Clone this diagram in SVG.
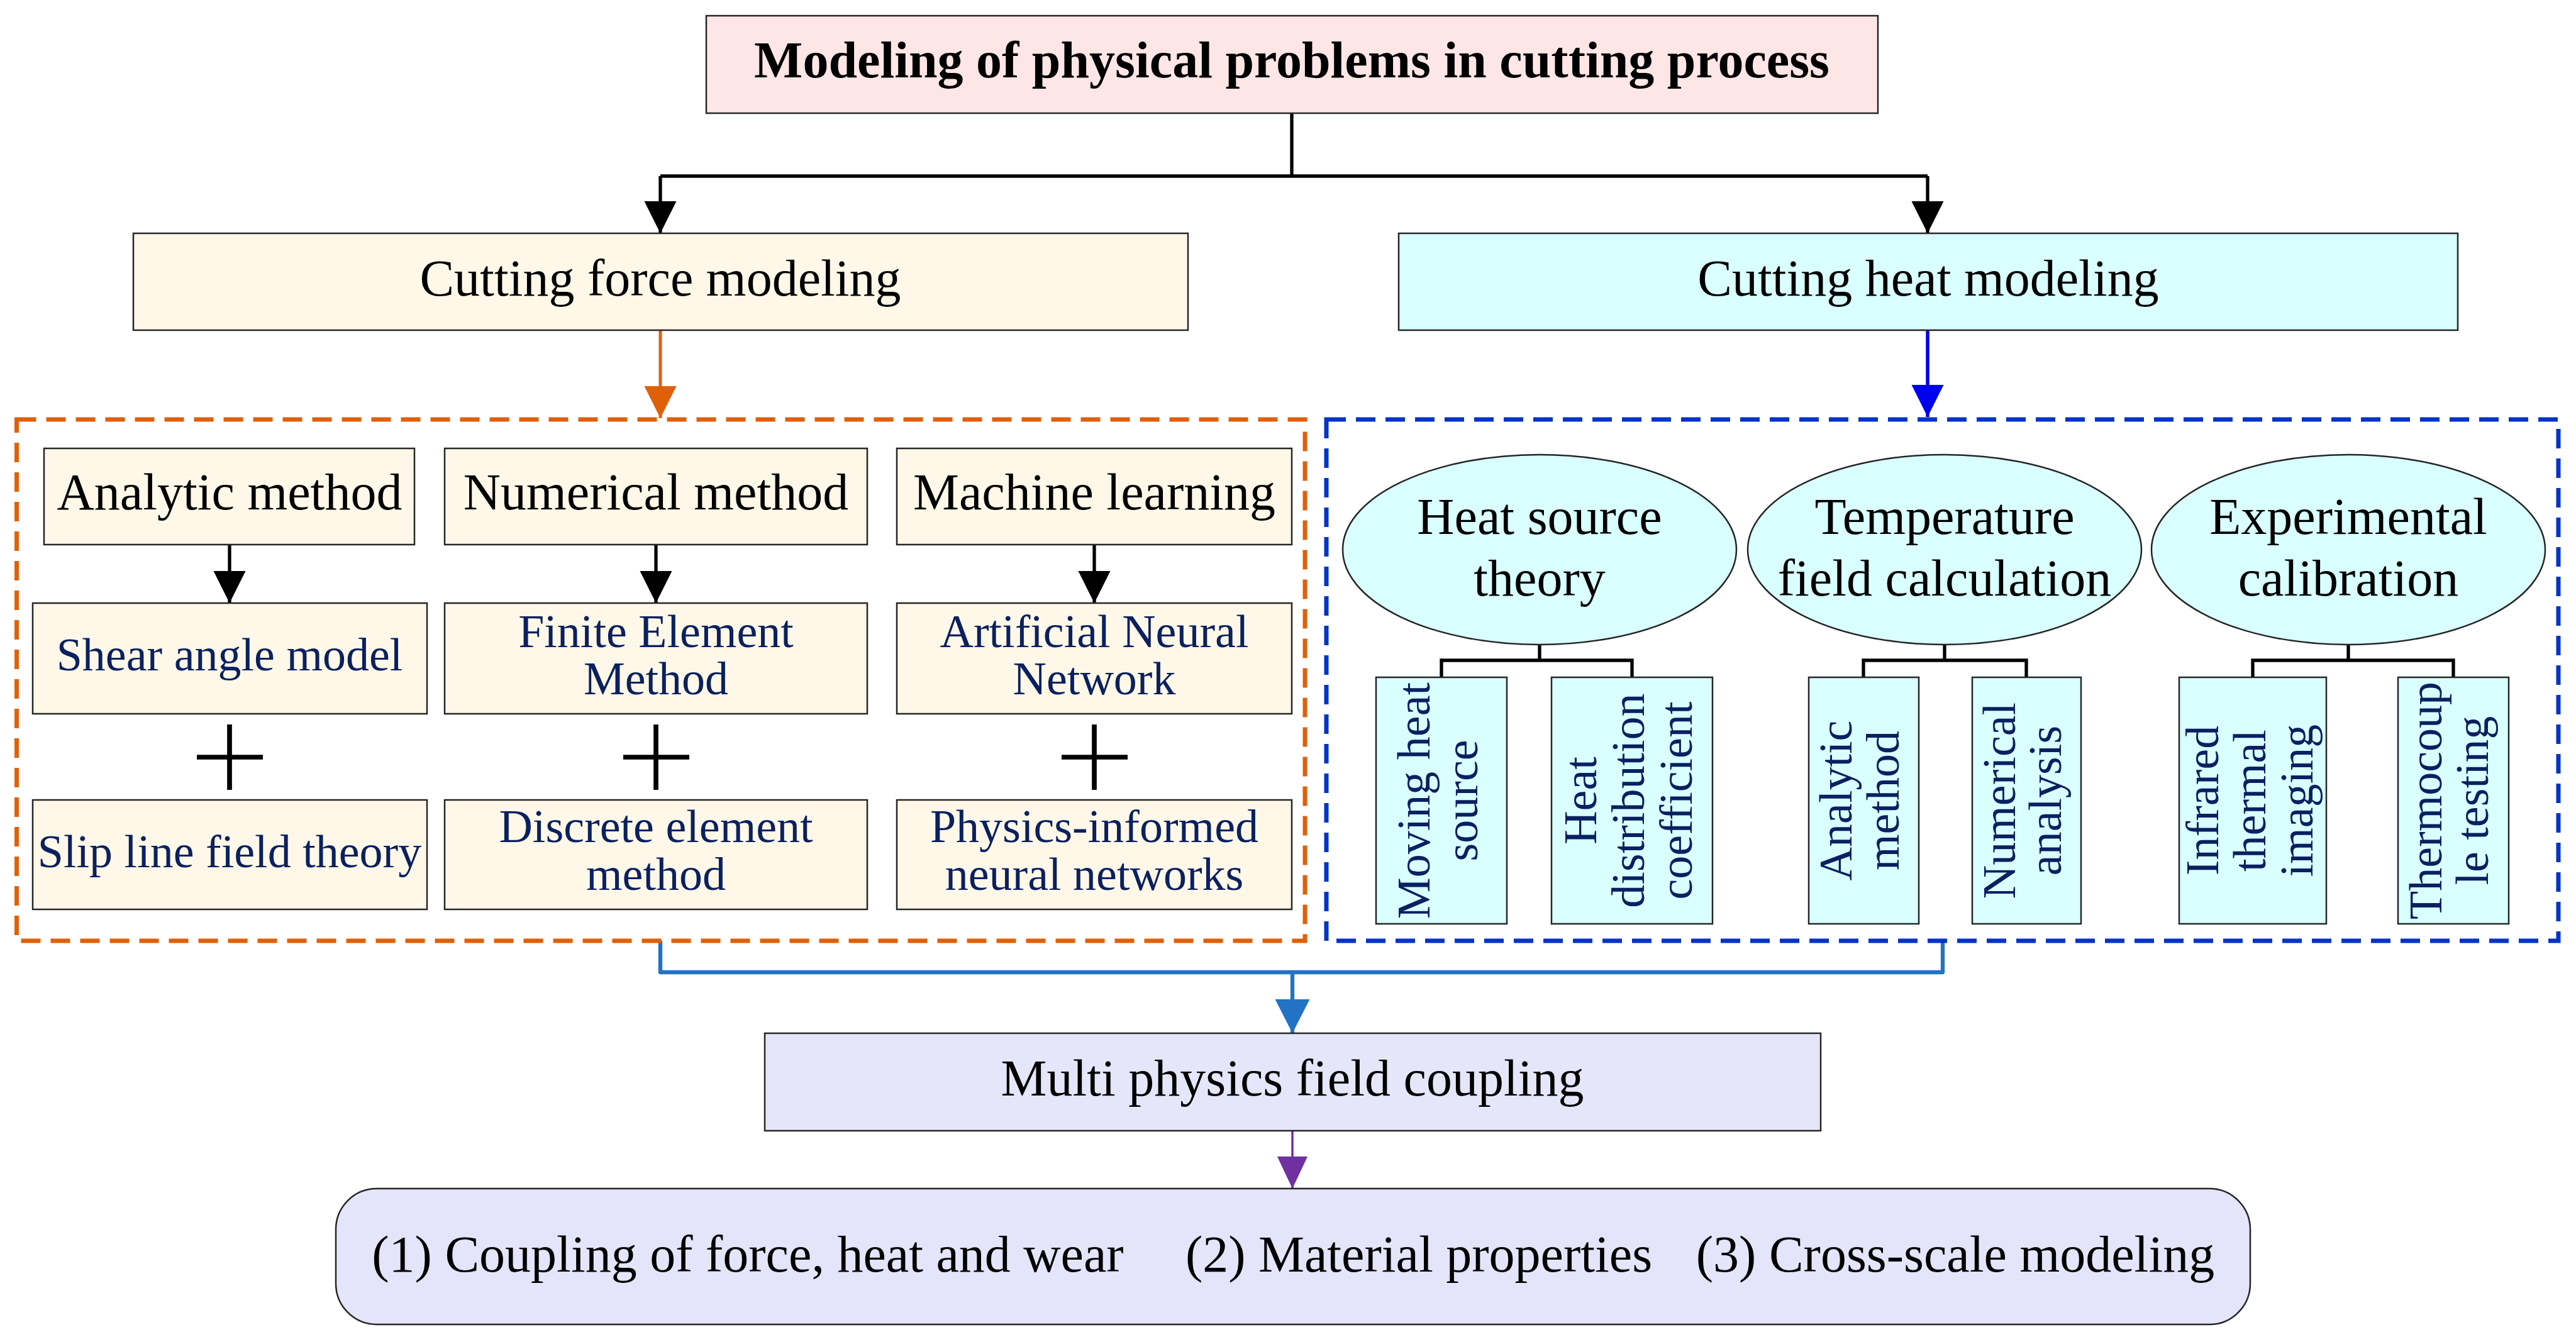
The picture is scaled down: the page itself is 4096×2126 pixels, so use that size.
<svg xmlns="http://www.w3.org/2000/svg" width="4096" height="2126" viewBox="0 0 4096 2126">
<defs>
<style>
.box{stroke:#262626;stroke-width:2.5}
.cream{fill:#fff8e8}
.cyan{fill:#d9ffff}
.lav{fill:#e6e6fa}
.t{font-family:"Liberation Serif","Times New Roman",serif;text-anchor:middle}
.h{font-size:82px;fill:#000}
.s{font-size:74px;fill:#0a2060}
.blk{stroke:#000;stroke-width:5.3;fill:none}
</style>
<marker id="ab" markerUnits="userSpaceOnUse" markerWidth="52" markerHeight="52" refX="51" refY="25.5" orient="auto" viewBox="0 0 52 52"><path d="M0,0 L51,25.5 L0,51 Z" fill="#000"/></marker>
<marker id="ao" markerUnits="userSpaceOnUse" markerWidth="52" markerHeight="52" refX="51" refY="25.5" orient="auto" viewBox="0 0 52 52"><path d="M0,0 L51,25.5 L0,51 Z" fill="#e0600a"/></marker>
<marker id="abl" markerUnits="userSpaceOnUse" markerWidth="52" markerHeight="52" refX="51" refY="25.5" orient="auto" viewBox="0 0 52 52"><path d="M0,0 L51,25.5 L0,51 Z" fill="#0000f0"/></marker>
<marker id="ast" markerUnits="userSpaceOnUse" markerWidth="56" markerHeight="56" refX="54" refY="27.5" orient="auto" viewBox="0 0 56 56"><path d="M0,0 L54,27.5 L0,55 Z" fill="#2272c6"/></marker>
<marker id="ap" markerUnits="userSpaceOnUse" markerWidth="52" markerHeight="52" refX="53" refY="25" orient="auto" viewBox="0 0 54 52"><path d="M0,0 L53,25 L0,50 Z" fill="#7030a0"/></marker>
</defs>
<rect width="4096" height="2126" fill="#fff"/>

<g id="connectors">
<path class="blk" d="M2054,180 V280 M1050,280 H3065"/>
<line x1="1050" y1="280" x2="1050" y2="371" stroke="#000" stroke-width="5.3" marker-end="url(#ab)"/>
<line x1="3065" y1="280" x2="3065" y2="371" stroke="#000" stroke-width="5.3" marker-end="url(#ab)"/>
<line x1="1050" y1="525" x2="1050" y2="665" stroke="#e0600a" stroke-width="5" marker-end="url(#ao)"/>
<line x1="3065" y1="525" x2="3065" y2="663" stroke="#0000f0" stroke-width="5.5" marker-end="url(#abl)"/>
<line x1="365" y1="866" x2="365" y2="959" stroke="#000" stroke-width="5.3" marker-end="url(#ab)"/>
<line x1="1043" y1="866" x2="1043" y2="959" stroke="#000" stroke-width="5.3" marker-end="url(#ab)"/>
<line x1="1740" y1="866" x2="1740" y2="959" stroke="#000" stroke-width="5.3" marker-end="url(#ab)"/>
<path class="blk" d="M2448,1025 V1050 M2292,1077 V1050 H2595 V1077"/>
<path class="blk" d="M3092,1025 V1050 M2963,1077 V1050 H3222 V1077"/>
<path class="blk" d="M3734,1025 V1050 M3582,1077 V1050 H3901 V1077"/>
<path d="M1050,1496 V1546 H3089 V1496" fill="none" stroke="#2272c6" stroke-width="6.3" stroke-linejoin="round"/>
<line x1="2055" y1="1546" x2="2055" y2="1643" stroke="#2272c6" stroke-width="6.3" marker-end="url(#ast)"/>
<line x1="2055" y1="1798" x2="2055" y2="1890" stroke="#7030a0" stroke-width="3.5" marker-end="url(#ap)"/>
</g>

<g id="title">
<rect class="box" x="1123" y="25" width="1863" height="155" fill="#ffe6e6"/>
<text class="t h" x="2054" y="123" font-weight="bold">Modeling of physical problems in cutting process</text>
</g>

<g id="force-modeling">
<rect class="box cream" x="212" y="371" width="1677" height="154"/>
<text class="t h" x="1050" y="470">Cutting force modeling</text>
</g>

<g id="heat-modeling">
<rect class="box cyan" x="2224" y="371" width="1684" height="154"/>
<text class="t h" x="3066" y="470">Cutting heat modeling</text>
</g>

<g id="force-group">
<rect x="26.5" y="667" width="2048.5" height="829" fill="none" stroke="#e0600a" stroke-width="7" stroke-dasharray="31 16"/>
</g>
<g id="heat-group">
<rect x="2109" y="667" width="1959" height="829" fill="none" stroke="#0033c8" stroke-width="7" stroke-dasharray="31 16"/>
</g>

<g id="analytic">
<rect class="box cream" x="70" y="713" width="589" height="153"/>
<text class="t h" x="365" y="810">Analytic method</text>
</g>
<g id="shear">
<rect class="box cream" x="52" y="959" width="627" height="176"/>
<text class="t s" x="365" y="1066">Shear angle model</text>
</g>
<g id="plus1"><path d="M365,1152 V1256 M313,1204 H418" stroke="#000" stroke-width="7.7"/></g>
<g id="slip">
<rect class="box cream" x="52" y="1272" width="627" height="174"/>
<text class="t s" x="365" y="1379">Slip line field theory</text>
</g>

<g id="numerical">
<rect class="box cream" x="707" y="713" width="672" height="153"/>
<text class="t h" x="1043" y="810">Numerical method</text>
</g>
<g id="fem">
<rect class="box cream" x="707" y="959" width="672" height="176"/>
<text class="t s" x="1043" y="1029">Finite Element</text>
<text class="t s" x="1043" y="1104">Method</text>
</g>
<g id="plus2"><path d="M1043,1152 V1256 M991,1204 H1096" stroke="#000" stroke-width="7.7"/></g>
<g id="dem">
<rect class="box cream" x="707" y="1272" width="672" height="174"/>
<text class="t s" x="1043" y="1339">Discrete element</text>
<text class="t s" x="1043" y="1415">method</text>
</g>

<g id="ml">
<rect class="box cream" x="1426" y="713" width="628" height="153"/>
<text class="t h" x="1740" y="810">Machine learning</text>
</g>
<g id="ann">
<rect class="box cream" x="1426" y="959" width="628" height="176"/>
<text class="t s" x="1740" y="1029">Artificial Neural</text>
<text class="t s" x="1740" y="1104">Network</text>
</g>
<g id="plus3"><path d="M1740,1152 V1256 M1688,1204 H1793" stroke="#000" stroke-width="7.7"/></g>
<g id="pinn">
<rect class="box cream" x="1426" y="1272" width="628" height="174"/>
<text class="t s" x="1740" y="1339">Physics-informed</text>
<text class="t s" x="1740" y="1415">neural networks</text>
</g>

<g id="heat-source">
<ellipse cx="2448" cy="874" rx="313" ry="151" class="cyan" stroke="#262626" stroke-width="2.5"/>
<text class="t h" x="2448" y="849">Heat source</text>
<text class="t h" x="2448" y="947">theory</text>
</g>
<g id="temperature">
<ellipse cx="3092" cy="874" rx="313" ry="151" class="cyan" stroke="#262626" stroke-width="2.5"/>
<text class="t h" x="3092" y="849">Temperature</text>
<text class="t h" x="3092" y="947">field calculation</text>
</g>
<g id="experimental">
<ellipse cx="3734" cy="874" rx="313" ry="151" class="cyan" stroke="#262626" stroke-width="2.5"/>
<text class="t h" x="3734" y="849">Experimental</text>
<text class="t h" x="3734" y="947">calibration</text>
</g>

<g id="moving">
<rect class="box cyan" x="2188" y="1077" width="208" height="392"/>
<g transform="translate(2292,1273) rotate(-90)">
<text class="t s" x="0" y="-19">Moving heat</text>
<text class="t s" x="0" y="57">source</text>
</g>
</g>
<g id="heat-dist">
<rect class="box cyan" x="2467" y="1077" width="256" height="392"/>
<g transform="translate(2595,1273) rotate(-90)">
<text class="t s" x="0" y="-57">Heat</text>
<text class="t s" x="0" y="19">distribution</text>
<text class="t s" x="0" y="95">coefficient</text>
</g>
</g>
<g id="analytic-v">
<rect class="box cyan" x="2876" y="1077" width="175" height="392"/>
<g transform="translate(2963,1273) rotate(-90)">
<text class="t s" x="0" y="-19">Analytic</text>
<text class="t s" x="0" y="56">method</text>
</g>
</g>
<g id="numerical-v">
<rect class="box cyan" x="3136" y="1077" width="173" height="392"/>
<g transform="translate(3222,1273) rotate(-90)">
<text class="t s" x="0" y="-18">Numerical</text>
<text class="t s" x="0" y="55">analysis</text>
</g>
</g>
<g id="infrared">
<rect class="box cyan" x="3465" y="1077" width="234" height="392"/>
<g transform="translate(3582,1273) rotate(-90)">
<text class="t s" x="0" y="-55">Infrared</text>
<text class="t s" x="0" y="20">thermal</text>
<text class="t s" x="0" y="95">imaging</text>
</g>
</g>
<g id="thermocouple">
<rect class="box cyan" x="3813" y="1077" width="176" height="392"/>
<g transform="translate(3901,1273) rotate(-90)">
<text class="t s" x="0" y="-19">Thermocoup</text>
<text class="t s" x="0" y="55">le testing</text>
</g>
</g>

<g id="multi">
<rect class="box lav" x="1216" y="1643" width="1679" height="155"/>
<text class="t h" x="2055" y="1742">Multi physics field coupling</text>
</g>

<g id="outcomes">
<rect class="box" x="534" y="1890" width="3044" height="216" rx="65" ry="65" fill="#e4e4fa"/>
<text class="t h" x="1189" y="2022">(1) Coupling of force, heat and wear</text>
<text class="t h" x="2256" y="2022">(2) Material properties</text>
<text class="t h" x="3109" y="2022">(3) Cross-scale modeling</text>
</g>
</svg>
